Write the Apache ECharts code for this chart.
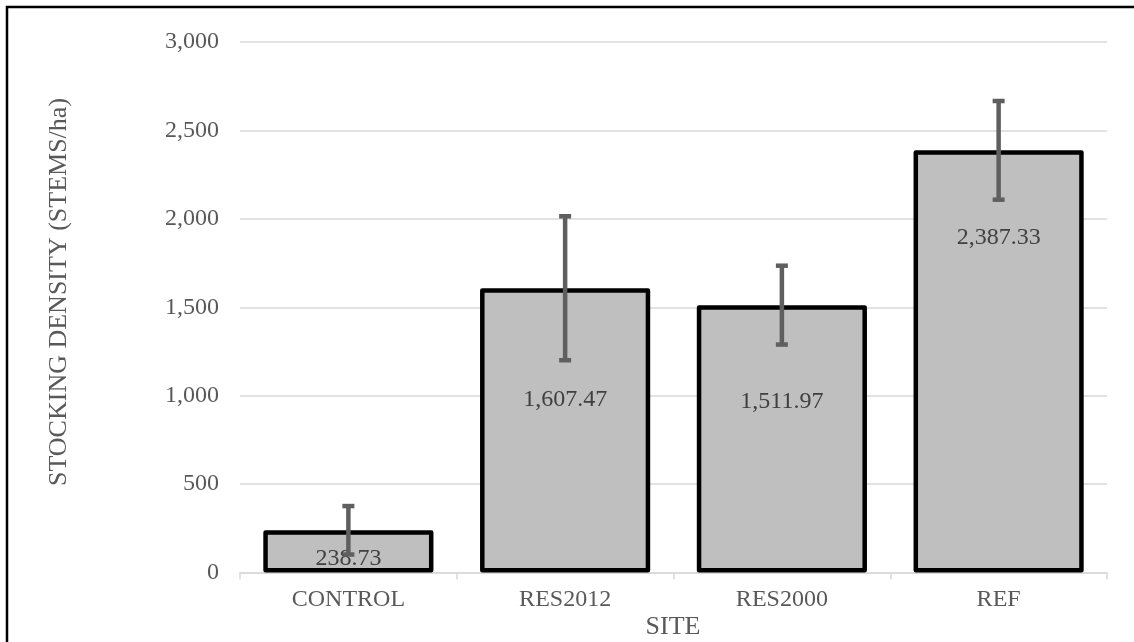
<!DOCTYPE html>
<html>
<head>
<meta charset="utf-8">
<script src="https://cdn.jsdelivr.net/npm/echarts@6/dist/echarts.min.js"></script>
<style>
html,body{margin:0;padding:0;background:#fff;}
#chart{width:1134px;height:642px;}
</style>
</head>
<body>
<div id="chart"></div>
<script>
// ---- data ----
const categories = ['CONTROL', 'RES2012', 'RES2000', 'REF'];
const values = [238.73, 1607.47, 1511.97, 2387.33];
const errors = [137, 407, 223, 279];
const yMin = 0;
const yMax = 3000;
const yInterval = 500;
const xTitle = 'SITE';
const yTitle = 'STOCKING DENSITY (STEMS/ha)';

// ---- styling (label offsets below bar top, px) ----
const labelOffsets = [28, 111, 97, 87];
const FONT = '"Liberation Serif", "Times New Roman", serif';

const chart = echarts.init(document.getElementById('chart'), null, {renderer: 'canvas'});

const barData = values.map((v, i) => ({
  value: v,
  label: {position: ['50%', labelOffsets[i]]}
}));

const errData = values.map((v, i) => [i, v - errors[i], v + errors[i]]);

const option = {
  animation: false,
  backgroundColor: '#fff',
  grid: {left: 240, right: 27, top: 42, bottom: 69.5, containLabel: false},
  xAxis: {
    type: 'category',
    data: categories,
    axisLine: {show: true, lineStyle: {color: '#d9d9d9', width: 1.5}},
    axisTick: {show: true, length: 7, lineStyle: {color: '#d9d9d9', width: 1.5}},
    axisLabel: {color: '#595959', fontFamily: FONT, fontSize: 24, margin: 15},
    splitLine: {show: false}
  },
  yAxis: {
    type: 'value',
    min: yMin,
    max: yMax,
    interval: yInterval,
    axisLine: {show: false},
    axisTick: {show: false},
    axisLabel: {
      color: '#595959', fontFamily: FONT, fontSize: 24, margin: 21,
      formatter: v => v.toLocaleString('en-US')
    },
    splitLine: {show: true, lineStyle: {color: '#d9d9d9', width: 1.5}}
  },
  series: [
    {
      type: 'bar',
      data: barData,
      barCategoryGap: '21.5%',
      z: 2,
      itemStyle: {color: '#bfbfbf', borderColor: '#000', borderWidth: 4.5, borderJoin: 'round'},
      label: {
        show: true,
        color: '#404040',
        fontFamily: FONT,
        fontSize: 24,
        align: 'center',
        verticalAlign: 'middle',
        formatter: p => p.value.toLocaleString('en-US', {minimumFractionDigits: 2, maximumFractionDigits: 2})
      }
    },
    {
      type: 'custom',
      z: 5,
      silent: true,
      data: errData,
      renderItem: function (params, api) {
        const idx = api.value(0);
        const lo = api.coord([idx, api.value(1)]);
        const hi = api.coord([idx, api.value(2)]);
        const cw = 6;
        const st = {stroke: '#5f5f5f', lineWidth: 4.5};
        return {
          type: 'group',
          children: [
            {type: 'line', shape: {x1: hi[0], y1: hi[1], x2: lo[0], y2: lo[1]}, style: st},
            {type: 'line', shape: {x1: hi[0] - cw, y1: hi[1], x2: hi[0] + cw, y2: hi[1]}, style: st},
            {type: 'line', shape: {x1: lo[0] - cw, y1: lo[1], x2: lo[0] + cw, y2: lo[1]}, style: st}
          ]
        };
      }
    }
  ],
  graphic: [
    {
      type: 'rect', silent: true, z: 10,
      shape: {x: 7, y: 7, width: 1300, height: 1000},
      style: {fill: 'none', stroke: '#000', lineWidth: 2.5}
    },
    {
      type: 'text', silent: true,
      x: 59, y: 292, rotation: Math.PI / 2,
      style: {text: yTitle, font: '26px ' + FONT, fill: '#595959', align: 'center', verticalAlign: 'middle'}
    },
    {
      type: 'text', silent: true,
      x: 673, y: 627,
      style: {text: xTitle, font: '26px ' + FONT, fill: '#595959', align: 'center', verticalAlign: 'middle'}
    }
  ]
};
chart.setOption(option);
</script>
</body>
</html>
